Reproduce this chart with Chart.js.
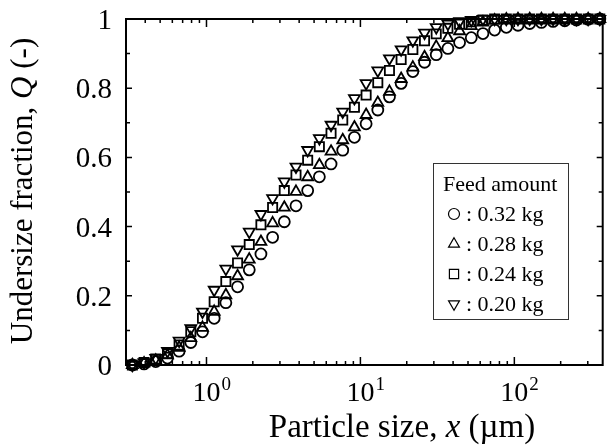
<!DOCTYPE html>
<html lang="en">
<head>
<meta charset="UTF-8">
<title>Undersize fraction vs particle size</title>
<script src="https://cdn.jsdelivr.net/npm/chart.js"></script>
<style>
    body { margin: 0; background: #fff; }
    #chart { display: block; }
</style>
</head>
<body>
<canvas id="chart" width="611" height="448"></canvas>
<script>
// particle sizes (um), same bins for every run
const sizes = [0.330, 0.393, 0.468, 0.558, 0.664, 0.791, 0.942, 1.122, 1.336, 1.592,
    1.896, 2.258, 2.689, 3.203, 3.815, 4.543, 5.411, 6.445, 7.676, 9.142,
    10.89, 12.97, 15.44, 18.39, 21.91, 26.09, 31.08, 37.01, 44.08, 52.50,
    62.53, 74.47, 88.70, 105.6, 125.8, 149.9, 178.5, 212.6, 253.2, 301.6, 359.2];

// undersize fraction Q for each feed amount
const q032 = [0, 0.003, 0.01, 0.02, 0.04, 0.065, 0.096, 0.135, 0.18, 0.226,
    0.275, 0.321, 0.369, 0.414, 0.46, 0.504, 0.544, 0.581, 0.621, 0.658,
    0.697, 0.737, 0.775, 0.814, 0.848, 0.875, 0.897, 0.915, 0.932, 0.946,
    0.958, 0.968, 0.976, 0.982, 0.987, 0.99, 0.993, 0.995, 0.997, 0.999, 1];
const q028 = [0, 0.005, 0.013, 0.028, 0.05, 0.078, 0.108, 0.154, 0.202, 0.257,
    0.305, 0.356, 0.41, 0.455, 0.501, 0.543, 0.578, 0.617, 0.65, 0.687,
    0.723, 0.758, 0.79, 0.827, 0.86, 0.89, 0.92, 0.945, 0.965, 0.98,
    0.99, 0.996, 0.999, 1, 1, 1, 1, 1, 1, 1, 1];
const q024 = [0, 0.007, 0.017, 0.033, 0.058, 0.096, 0.135, 0.183, 0.241, 0.295,
    0.348, 0.405, 0.455, 0.504, 0.549, 0.592, 0.631, 0.67, 0.708, 0.745,
    0.78, 0.816, 0.851, 0.883, 0.912, 0.937, 0.957, 0.973, 0.985, 0.992,
    0.997, 1, 1, 1, 1, 1, 1, 1, 1, 1, 1];
const q020 = [0, 0.008, 0.02, 0.04, 0.07, 0.106, 0.154, 0.217, 0.278, 0.334,
    0.385, 0.436, 0.482, 0.53, 0.573, 0.621, 0.655, 0.694, 0.732, 0.771,
    0.814, 0.851, 0.886, 0.912, 0.938, 0.96, 0.976, 0.986, 0.993, 0.997,
    1, 1, 1, 1, 1, 1, 1, 1, 1, 1, 1];

const seriesLabels = [': 0.32 kg', ': 0.28 kg', ': 0.24 kg', ': 0.20 kg'];
const xDecades = [1, 10, 100];
const yTicks = [0, 0.2, 0.4, 0.6, 0.8, 1];
const legendTitle = 'Feed amount';

const SERIF = "'Liberation Serif', 'Times New Roman', serif";

function pts(ys) {
    return sizes.map((x, i) => ({ x: x, y: ys[i] }));
}

function ds(label, ys, style, r, rot) {
    return {
        label: label,
        data: pts(ys),
        pointStyle: style,
        pointRadius: r,
        pointRotation: rot || 0,
        borderColor: '#000',
        backgroundColor: 'rgba(0,0,0,0)',
        pointBorderWidth: 1.8,
        clip: false
    };
}

// legend marker, same shapes as chart.js point styles
function marker(ctx, style, r, rot, x, y) {
    ctx.beginPath();
    if (style === 'circle') {
        ctx.arc(x, y, r, 0, Math.PI * 2);
    } else if (style === 'rect') {
        const s = r * Math.SQRT1_2;
        ctx.rect(x - s, y - s, 2 * s, 2 * s);
    } else {
        let a = (rot || 0) * Math.PI / 180;
        ctx.moveTo(x + Math.sin(a) * r, y - Math.cos(a) * r);
        for (let k = 0; k < 2; k++) {
            a += Math.PI * 2 / 3;
            ctx.lineTo(x + Math.sin(a) * r, y - Math.cos(a) * r);
        }
        ctx.closePath();
    }
    ctx.stroke();
}

const frame = {
    id: 'frame',
    afterDraw(chart) {
        const ctx = chart.ctx;
        const a = chart.chartArea;
        const xs = chart.scales.x, ys = chart.scales.y;
        ctx.save();
        ctx.strokeStyle = '#000';
        ctx.lineWidth = 2;
        ctx.strokeRect(a.left, a.top, a.right - a.left, a.bottom - a.top);

        // inward ticks
        ctx.lineWidth = 1.5;
        ctx.beginPath();
        for (let k = 0; k <= 10; k++) {
            const y = ys.getPixelForValue(k / 10);
            const len = k % 2 === 0 ? 6 : 4;
            ctx.moveTo(a.left, y); ctx.lineTo(a.left + len, y);
            ctx.moveTo(a.right, y); ctx.lineTo(a.right - len, y);
        }
        for (let d = 0.1; d < 1000; d *= 10) {
            for (let m = 1; m <= 9; m++) {
                const v = d * m;
                if (v < xs.min || v > xs.max) continue;
                const x = xs.getPixelForValue(v);
                const len = m === 1 ? 8 : 4;
                ctx.moveTo(x, a.bottom); ctx.lineTo(x, a.bottom - len);
                ctx.moveTo(x, a.top); ctx.lineTo(x, a.top + len);
            }
        }
        ctx.stroke();

        ctx.fillStyle = '#000';
        ctx.textBaseline = 'alphabetic';

        // y tick labels
        ctx.font = '29px ' + SERIF;
        ctx.textAlign = 'right';
        yTicks.forEach(v => {
            ctx.fillText(String(v), a.left - 14, ys.getPixelForValue(v) + 10);
        });

        // x tick labels 10^n
        xDecades.forEach(v => {
            const x = xs.getPixelForValue(v);
            ctx.font = '28px ' + SERIF;
            ctx.textAlign = 'center';
            ctx.fillText('10', x, a.bottom + 36);
            const w = ctx.measureText('10').width;
            ctx.font = '19px ' + SERIF;
            ctx.textAlign = 'left';
            ctx.fillText(String(Math.round(Math.log10(v))), x + w / 2 + 1, a.bottom + 25);
        });

        // axis titles
        function runs(parts, size) {
            return parts.map(p => {
                const f = (p[1] ? 'italic ' : '') + size + 'px ' + SERIF;
                ctx.font = f;
                return { t: p[0], f: f, w: ctx.measureText(p[0]).width };
            });
        }
        function drawRuns(rs, x, y) {
            rs.forEach(r => { ctx.font = r.f; ctx.fillText(r.t, x, y); x += r.w; });
        }
        ctx.textAlign = 'left';
        const xt = runs([['Particle size, ', false], ['x', true], [' (\u00b5m)', false]], 33);
        const xtw = xt.reduce((s, r) => s + r.w, 0);
        drawRuns(xt, 402 - xtw / 2, 437);

        const yt = runs([['Undersize fraction, ', false], ['Q', true], [' (-)', false]], 31);
        const ytw = yt.reduce((s, r) => s + r.w, 0);
        ctx.save();
        ctx.translate(32, 191);
        ctx.rotate(-Math.PI / 2);
        drawRuns(yt, -ytw / 2, 0);
        ctx.restore();

        // legend box
        ctx.lineWidth = 1;
        ctx.strokeStyle = '#333';
        ctx.strokeRect(433.5, 163.5, 135, 156);
        ctx.font = '22px ' + SERIF;
        ctx.fillText(legendTitle, 443, 191);
        chart.data.datasets.forEach((d, i) => {
            const cy = 214 + i * 30;
            ctx.lineWidth = 1.2;
            ctx.strokeStyle = '#000';
            marker(ctx, d.pointStyle, d.pointRadius, d.pointRotation, 454, cy);
            ctx.fillStyle = '#000';
            ctx.font = '22px ' + SERIF;
            ctx.fillText(d.label, 466, cy + 7);
        });
        ctx.restore();
    }
};

new Chart(document.getElementById('chart'), {
    type: 'scatter',
    data: {
        datasets: [
            ds(seriesLabels[0], q032, 'circle', 5.5),
            ds(seriesLabels[1], q028, 'triangle', 6.3),
            ds(seriesLabels[2], q024, 'rect', 6.5),
            ds(seriesLabels[3], q020, 'triangle', 6.3, 180)
        ]
    },
    plugins: [frame],
    options: {
        responsive: false,
        animation: false,
        layout: { padding: { top: 19, right: 6, left: 0, bottom: 0 } },
        plugins: { legend: { display: false }, tooltip: { enabled: false } },
        scales: {
            x: {
                type: 'logarithmic',
                min: 0.3,
                max: 375,
                grid: { display: false },
                border: { display: false },
                ticks: { display: false },
                afterFit(s) { s.height = 83; }
            },
            y: {
                min: 0,
                max: 1,
                grid: { display: false, drawTicks: false },
                border: { display: false },
                ticks: { display: false },
                afterFit(s) { s.width = 126; }
            }
        }
    }
});
</script>
</body>
</html>
